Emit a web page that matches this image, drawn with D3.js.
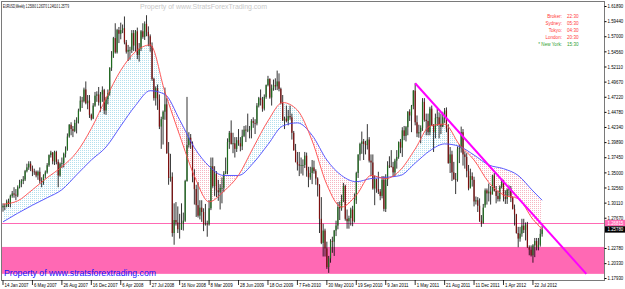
<!DOCTYPE html>
<html>
<head>
<meta charset="utf-8">
<script src="https://cdn.jsdelivr.net/npm/d3@7"></script>
<style>
  body { margin: 0; background: #fff; }
  svg { display: block; font-family: "Liberation Sans", Arial, sans-serif; }
</style>
</head>
<body>
<svg width="625" height="289"></svg>
<script>
// EURUSD weekly, one entry per week starting 14 Jan 2007 (prices x 10000)
const firstOpen = 12935;
const closes = [
  12960,12950,13030,12990,13120,13160,13140,13125, 13260,13320,13360,13385,13520,13580,13640,13560,
  13515,13510,13450,13510,13360,13340,13450,13500, 13615,13780,13820,13680,13830,13670,13450,13640,
  13650,13800,13875,14080,14270,14200,14170,14300, 14340,14500,14660,14650,14840,14620,14660,14430,
  14370,14580,14740,14760,14630,14760,14830,14500, 14680,14780,15190,15370,15670,15440,15800,15740,
  15800,15830,15600,15450,15480,15480,15750,15550, 15780,15400,15500,15780,15690,15900,15770,15700,
  15540,15010,14700,14860,14680,14240,14360,14480, 14600,13810,13410,13430,12520,12730,12690,12580,
  12590,12680,12720,13360,13940,14060,13970,13430, 13230,12970,12800,12930,12860,12660,12670,12660,
  12920,13600,13280,13480,13210,13180,13250,13250, 13480,13520,13990,14140,13960,13970,13880,14020,
  13970,13920,14090,14190,14180,14190,14190,14330, 14300,14290,14580,14700,14670,14530,14720,14910,
  15010,14710,14860,14910,14890,14970,14850,14620, 14340,14370,14330,14410,14390,14140,13860,13670,
  13630,13610,13620,13620,13770,13530,13420,13490, 13580,13520,13400,13290,12750,12360,12560,12270,
  11970,12110,12390,12380,12560,12640,12940,12920, 13050,13280,12750,12710,12760,12900,12710,13050,
  13490,13790,13960,14000,13960,13940,14030,13690, 13660,13240,13390,13230,13190,13120,13380,12910,
  13380,13610,13600,13590,13500,13690,13750,13990, 13900,14180,14090,14230,14480,14420,14570,14820,
  14310,14130,14150,14220,14640,14350,14330,14150, 14530,14260,14150,14380,14390,14280,14240,14390,
  14500,14210,13650,13790,13500,13390,13380,13880, 13890,14150,13790,13750,13520,13240,13440,13380,
  13030,13050,12960,12720,12680,12930,13210,13160, 13190,13140,13450,13200,13120,13070,13270,13340,
  13100,13070,13220,13240,13090,12910,12820,12520, 12430,12510,12640,12570,12660,12290,12250,12160,
  12320,12390,12290,12330,12506,12578
];
const highs = [
  13000,12995,13060,13075,13140,13200,13260,13230, 13290,13380,13390,13440,13540,13640,13680,13680,
  13610,13560,13530,13530,13580,13420,13470,13530, 13650,13790,13850,13830,13850,13850,13710,13660,
  13740,13820,13920,14130,14280,14310,14250,14350, 14390,14530,14730,14720,14870,14970,14750,14750,
  14450,14620,14800,14810,14880,14800,14890,14850, 14720,14840,15200,15460,15690,15910,15820,15850,
  15920,15890,16020,15640,15560,15530,15800,15800, 15800,15840,15590,15800,15910,15940,16040,15860,
  15730,15600,15030,14890,14920,14760,14400,14500, 14870,14700,13990,13800,13500,13000,13020,12950,
  12830,13000,12850,13380,14720,14150,14120,14000, 13550,13300,13340,13050,13050,12920,12990,12720,
  13050,13740,13740,13600,13520,13380,13310,13420, 13520,13740,14050,14170,14340,14140,14070,14070,
  14200,14070,14190,14250,14260,14450,14250,14360, 14390,14360,14620,14720,14840,14720,14760,14920,
  15060,15020,14920,15000,15020,15145,15100,14870, 14750,14400,14580,14510,14580,14450,14170,13960,
  13830,13830,13740,13710,13830,13820,13590,13590, 13700,13690,13550,13420,13310,13100,12670,12590,
  12380,12150,12420,12460,12570,12720,13020,13030, 13140,13330,13300,12900,12800,12930,12960,13160,
  13510,13790,13980,14160,14040,14010,14280,14070, 13790,13790,13450,13400,13510,13230,13440,13440,
  13470,13680,13760,13860,13670,13720,13860,14000, 14040,14230,14250,14250,14490,14520,14590,14830,
  14940,14420,14270,14260,14700,14700,14450,14450, 14560,14580,14280,14450,14530,14470,14450,14480,
  14540,14550,14280,13910,13850,13670,13490,13920, 13950,14240,14200,13840,13810,13620,13560,13500,
  13430,13110,13100,13080,12810,12990,13240,13240, 13320,13280,13460,13490,13280,13200,13290,13390,
  13380,13210,13240,13290,13280,13110,12980,12830, 12620,12620,12750,12750,12690,12700,12320,12320,
  12340,12440,12440,12440,12590,12637
];
const lows = [
  12865,12890,12935,12940,12935,13090,13090,13050, 13100,13240,13260,13310,13360,13500,13540,13520,
  13440,13460,13420,13380,13320,13260,13300,13400, 13480,13590,13740,13630,13620,13630,13260,13430,
  13570,13580,13740,13850,14060,14100,14070,14150, 14130,14290,14480,14540,14630,14600,14520,14380,
  14340,14360,14560,14640,14580,14480,14640,14440, 14430,14600,14740,15140,15350,15420,15420,15590,
  15650,15750,15570,15420,15300,15320,15430,15460, 15450,15330,15290,15460,15660,15640,15700,15540,
  15450,14980,14660,14580,14510,14200,13880,13950, 14350,13800,13300,13350,12460,12330,12640,12520,
  12430,12570,12560,12700,13350,13900,13880,13340, 12980,12780,12770,12740,12700,12550,12640,12460,
  12640,12890,13250,13120,13100,13040,12900,13000, 13180,13470,13470,13880,13950,13810,13740,13830,
  13930,13840,13860,14070,13990,14150,14050,14050, 14220,14120,14260,14550,14580,14480,14500,14690,
  14890,14690,14580,14820,14830,14830,14810,14600, 14330,14200,14310,14260,14350,14030,13850,13660,
  13530,13440,13480,13450,13570,13430,13260,13380, 13310,13480,13300,13110,12520,12340,12140,12140,
  11940,11876,12040,12200,12150,12470,12580,12730, 12880,13020,12720,12590,12590,12640,12630,12690,
  12990,13410,13690,13800,13700,13790,13870,13660, 13440,13220,12970,13170,13150,13050,13080,12870,
  12860,13280,13570,13580,13430,13440,13560,13720, 13810,13750,14020,14000,14100,14330,14150,14520,
  14260,14070,14060,13970,14170,14320,14100,14100, 14100,14250,13830,14050,14250,14050,14120,14230,
  14300,14150,13640,13490,13360,13380,13150,13350, 13650,13820,13610,13560,13420,13210,13260,13270,
  12950,12980,12860,12700,12620,12670,12970,12980, 13030,12980,13160,13190,13000,13030,13030,13240,
  13030,12990,12990,13120,13020,12900,12640,12510, 12290,12380,12460,12520,12400,12280,12160,12140,
  12040,12130,12240,12240,12300,12461
];

// moving averages read every 8 weeks (last point = last week)
const maWeeks = [0,8,16,24,32,40,48,56,64,72,80,88,96,104,112,120,128,136,144,152,160,168,176,184,
  192,200,208,216,224,232,240,248,256,264,272,280,288,293];
const maFast = [12985,13040,13220,13414,13590,13824,14210,14700,15150,15450,15560,14800,14100,13442,
  13024,13195,13454,13899,14332,14629,14506,14011,13302,12940,13130,13450,13400,13540,13878,14248,
  14280,13950,13700,13338,13136,13075,12740,12580];
const maSlow = [12700,12840,12970,13090,13220,13460,13700,13910,14250,14580,14820,14760,14350,13900,
  13600,13450,13450,13650,13950,14250,14300,14100,13700,13450,13350,13400,13420,13450,13650,13850,
  13960,13920,13780,13620,13560,13450,13200,13050];

const dateTicks = [0,16,32,48,64,80,96,112,128,144,160,176,192,208,224,240,256,272,288];
const dateLabels = ["14 Jan 2007","6 May 2007","26 Aug 2007","16 Dec 2007","6 Apr 2008","27 Jul 2008",
  "16 Nov 2008","8 Mar 2009","28 Jun 2009","18 Oct 2009","7 Feb 2010","30 May 2010","19 Sep 2010",
  "9 Jan 2011","1 May 2011","21 Aug 2011","11 Dec 2011","1 Apr 2012","22 Jul 2012"];
const priceTicks = [1.61890,1.59440,1.57000,1.54560,1.52110,1.49670,1.47220,1.44780,1.42340,1.39890,
  1.37450,1.35000,1.32560,1.30110,1.27670,1.22780,1.20330,1.17930];

const zone = [1.1860, 1.2295];
const hLine = 1.26815;
const trend = [[224, 1.4940], [317, 1.1860]];
const clockNames = ["Broker:", "Sydney:", "Tokyo:", "London:", "* New York:"];
const clockTimes = ["22:30", "05:30", "04:30", "20:30", "15:30"];

const bars = closes.map((c, i) => ({
  i, o: (i === 0 ? firstOpen : closes[i - 1]) / 1e4, c: c / 1e4, h: highs[i] / 1e4, l: lows[i] / 1e4
}));
const ma = maWeeks.map((w, k) => ({ w, f: maFast[k] / 1e4, s: maSlow[k] / 1e4 }));

const svg = d3.select("svg");
const L = 1, T = 1, R = 604, B = 280;

const x = d3.scaleLinear().domain([0, 327]).range([3, 604.7]);
const y = d3.scaleLinear().domain([1.1793, 1.6189]).range([278, 6]);

// squeeze small text horizontally (terminal font is narrow)
function squeeze(sel, f) {
  sel.each(function () {
    const w = this.getComputedTextLength();
    d3.select(this).attr("textLength", w * f).attr("lengthAdjust", "spacingAndGlyphs");
  });
}

svg.append("clipPath").attr("id", "plot")
  .append("rect").attr("x", L).attr("y", T).attr("width", R - L).attr("height", B - T);

// dotted fills
const defs = svg.append("defs");
[["dotUp", "#b4e0ee"], ["dotDn", "#f6b6c2"]].forEach(([id, col]) => {
  const p = defs.append("pattern").attr("id", id).attr("patternUnits", "userSpaceOnUse")
    .attr("width", 2).attr("height", 2);
  p.append("rect").attr("width", 1).attr("height", 1).attr("fill", col);
});

const plot = svg.append("g").attr("clip-path", "url(#plot)");

// support zone + horizontal line
plot.append("rect")
  .attr("x", L).attr("width", R - L)
  .attr("y", y(zone[1])).attr("height", y(zone[0]) - y(zone[1]))
  .attr("fill", "#ff69b4");

plot.append("line")
  .attr("x1", L).attr("x2", R).attr("y1", Math.round(y(hLine)) + 0.5).attr("y2", Math.round(y(hLine)) + 0.5)
  .attr("stroke", "#ff69b4").attr("stroke-width", 1);

const curve = d3.curveMonotoneX;
const slowLine = d3.line().x(d => x(d.w)).y(d => y(d.s)).curve(curve);
const fastLine = d3.line().x(d => x(d.w)).y(d => y(d.f)).curve(curve);
const band = d3.area().x(d => x(d.w)).y0(d => y(d.s)).y1(d => y(d.f)).curve(curve);
const aboveSlow = d3.area().x(d => x(d.w)).y0(0).y1(d => y(d.s)).curve(curve);
const belowSlow = d3.area().x(d => x(d.w)).y0(300).y1(d => y(d.s)).curve(curve);

defs.append("clipPath").attr("id", "above").append("path").attr("d", aboveSlow(ma));
defs.append("clipPath").attr("id", "below").append("path").attr("d", belowSlow(ma));

plot.append("path").attr("d", band(ma)).attr("fill", "url(#dotUp)").attr("clip-path", "url(#above)");
plot.append("path").attr("d", band(ma)).attr("fill", "url(#dotDn)").attr("clip-path", "url(#below)");

// candles
const cg = plot.append("g");
cg.selectAll("line").data(bars).join("line")
  .attr("x1", d => x(d.i)).attr("x2", d => x(d.i))
  .attr("y1", d => y(d.h)).attr("y2", d => y(d.l))
  .attr("stroke", "#000").attr("stroke-width", 0.8);
cg.selectAll("rect").data(bars).join("rect")
  .attr("x", d => x(d.i) - 0.6).attr("width", 1.2)
  .attr("y", d => y(Math.max(d.o, d.c)))
  .attr("height", d => Math.max(0.8, Math.abs(y(d.o) - y(d.c))))
  .attr("fill", d => d.c >= d.o ? "#1e6b1e" : "#7d1010");

plot.append("path").attr("d", slowLine(ma)).attr("fill", "none").attr("stroke", "#4a4aff").attr("stroke-width", 0.9);
plot.append("path").attr("d", fastLine(ma)).attr("fill", "none").attr("stroke", "#ff4848").attr("stroke-width", 0.9);

// trend line
plot.append("line")
  .attr("x1", x(trend[0][0])).attr("y1", y(trend[0][1]))
  .attr("x2", x(trend[1][0])).attr("y2", y(trend[1][1]))
  .attr("stroke", "#ff00ff").attr("stroke-width", 2);

// frame
svg.append("rect").attr("x", L + 0.5).attr("y", T + 0.5).attr("width", R - L).attr("height", B - T)
  .attr("fill", "none").attr("stroke", "#7a7a7a").attr("stroke-width", 1);

// price axis
const yAxis = d3.axisRight(y).tickValues(priceTicks).tickSize(2).tickPadding(1)
  .tickFormat(d3.format(".5f"));
svg.append("g").attr("transform", `translate(${R + 0.5},0)`).call(yAxis)
  .call(g => g.select(".domain").remove())
  .call(g => g.selectAll("text").attr("font-size", 5.2).attr("font-family", "Liberation Sans, Arial").attr("fill", "#000"))
  .call(g => squeeze(g.selectAll("text"), 0.84));

// price labels for horizontal line and last close
const tags = [[hLine, "#ff69b4", "#fff"], [bars[bars.length - 1].c, "#000", "#fff"]];
tags.forEach(([v, bg, fg]) => {
  const yy = y(v);
  svg.append("rect").attr("x", R + 1).attr("y", yy - 3.2).attr("width", 20).attr("height", 6.4).attr("fill", bg);
  svg.append("text").attr("x", R + 3.5).attr("y", yy + 2).attr("font-size", 5.2).attr("fill", fg)
    .text(d3.format(".5f")(v)).call(t => squeeze(t, 0.84));
});

// date axis
const dg = svg.append("g");
dateTicks.forEach((t, k) => {
  dg.append("line").attr("x1", x(t)).attr("x2", x(t)).attr("y1", B).attr("y2", B + 5)
    .attr("stroke", "#000").attr("stroke-width", 0.8);
  dg.append("text").attr("x", x(t) + 1.5).attr("y", B + 6.8).attr("font-size", 5.6).attr("fill", "#000")
    .text(dateLabels[k]);
});
squeeze(dg.selectAll("text"), 0.78);

// header texts
svg.append("text").attr("x", 3).attr("y", 7.5).attr("font-size", 5.6).attr("fill", "#000")
  .attr("textLength", 66).attr("lengthAdjust", "spacingAndGlyphs")
  .text("EURUSD,Weekly  1.25060 1.26370 1.24610 1.25779");
svg.append("text").attr("x", 140).attr("y", 9).attr("font-size", 7.2).attr("fill", "#c8c8c8")
  .attr("textLength", 127).attr("lengthAdjust", "spacingAndGlyphs")
  .text("Property of www.StratsForexTrading.com");
svg.append("text").attr("x", 4).attr("y", 275.5).attr("font-size", 9.2).attr("fill", "#1414ff")
  .attr("textLength", 152).attr("lengthAdjust", "spacingAndGlyphs")
  .text("Property of www.stratsforextrading.com");

const cl = svg.append("g");
clockNames.forEach((n, k) => {
  const col = k === 4 ? "#2fa02f" : "#ff3a3a";
  cl.append("text").attr("x", 562).attr("y", 18 + k * 7).attr("text-anchor", "end")
    .attr("font-size", 5.6).attr("fill", col).text(n);
  cl.append("text").attr("x", 567).attr("y", 18 + k * 7)
    .attr("font-size", 5.6).attr("fill", col).text(clockTimes[k]);
});
squeeze(cl.selectAll("text"), 0.82);
</script>
</body>
</html>
